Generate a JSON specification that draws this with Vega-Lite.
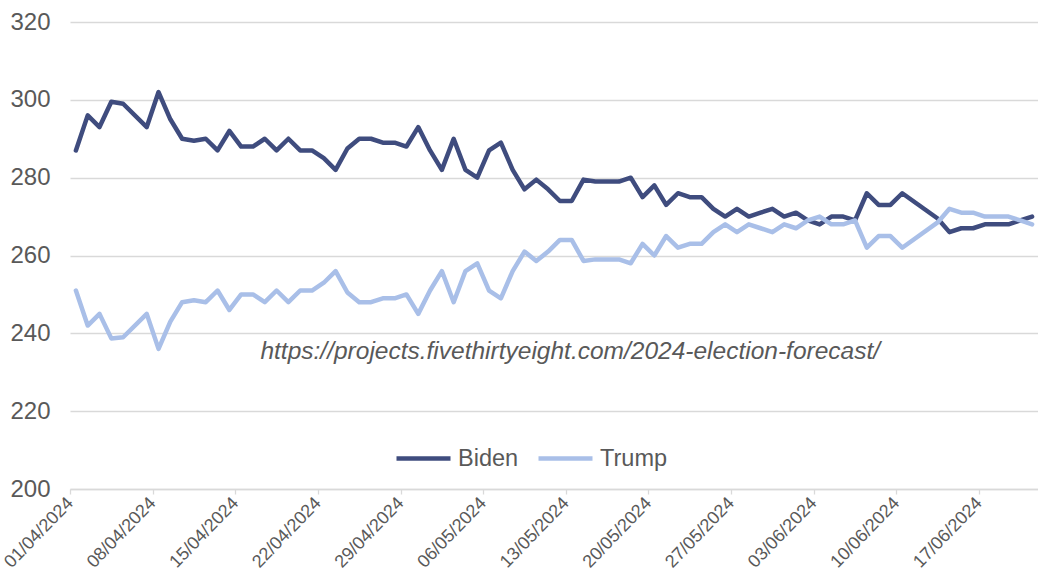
{
  "$schema": "https://vega.github.io/schema/vega-lite/v6.json",
  "autosize": {"type": "none"},
  "width": 968,
  "height": 467,
  "padding": {"left": 70, "top": 22, "right": 0, "bottom": 89},
  "background": "#ffffff",
  "config": {
    "view": {"stroke": null},
    "font": "Liberation Sans"
  },
  "layer": [
    {
      "data": {
        "values": [
          {"date": "2024-04-01", "Biden": 287, "Trump": 251},
          {"date": "2024-04-02", "Biden": 296, "Trump": 242},
          {"date": "2024-04-03", "Biden": 293, "Trump": 245},
          {"date": "2024-04-04", "Biden": 299.5, "Trump": 238.7},
          {"date": "2024-04-05", "Biden": 299, "Trump": 239},
          {"date": "2024-04-07", "Biden": 293, "Trump": 245},
          {"date": "2024-04-08", "Biden": 302, "Trump": 236},
          {"date": "2024-04-09", "Biden": 295, "Trump": 243},
          {"date": "2024-04-10", "Biden": 290, "Trump": 248},
          {"date": "2024-04-11", "Biden": 289.5, "Trump": 248.5},
          {"date": "2024-04-12", "Biden": 290, "Trump": 248},
          {"date": "2024-04-13", "Biden": 287, "Trump": 251},
          {"date": "2024-04-14", "Biden": 292, "Trump": 246},
          {"date": "2024-04-15", "Biden": 288, "Trump": 250},
          {"date": "2024-04-16", "Biden": 288, "Trump": 250},
          {"date": "2024-04-17", "Biden": 290, "Trump": 248},
          {"date": "2024-04-18", "Biden": 287, "Trump": 251},
          {"date": "2024-04-19", "Biden": 290, "Trump": 248},
          {"date": "2024-04-20", "Biden": 287, "Trump": 251},
          {"date": "2024-04-21", "Biden": 287, "Trump": 251},
          {"date": "2024-04-22", "Biden": 285, "Trump": 253},
          {"date": "2024-04-23", "Biden": 282, "Trump": 256},
          {"date": "2024-04-24", "Biden": 287.5, "Trump": 250.5},
          {"date": "2024-04-25", "Biden": 290, "Trump": 248},
          {"date": "2024-04-26", "Biden": 290, "Trump": 248},
          {"date": "2024-04-27", "Biden": 289, "Trump": 249},
          {"date": "2024-04-28", "Biden": 289, "Trump": 249},
          {"date": "2024-04-29", "Biden": 288, "Trump": 250},
          {"date": "2024-04-30", "Biden": 293, "Trump": 245},
          {"date": "2024-05-01", "Biden": 287, "Trump": 251},
          {"date": "2024-05-02", "Biden": 282, "Trump": 256},
          {"date": "2024-05-03", "Biden": 290, "Trump": 248},
          {"date": "2024-05-04", "Biden": 282, "Trump": 256},
          {"date": "2024-05-05", "Biden": 280, "Trump": 258},
          {"date": "2024-05-06", "Biden": 287, "Trump": 251},
          {"date": "2024-05-07", "Biden": 289, "Trump": 249},
          {"date": "2024-05-08", "Biden": 282, "Trump": 256},
          {"date": "2024-05-09", "Biden": 277, "Trump": 261},
          {"date": "2024-05-10", "Biden": 279.5, "Trump": 258.6},
          {"date": "2024-05-11", "Biden": 277, "Trump": 261},
          {"date": "2024-05-12", "Biden": 274, "Trump": 264},
          {"date": "2024-05-13", "Biden": 274, "Trump": 264},
          {"date": "2024-05-14", "Biden": 279.5, "Trump": 258.6},
          {"date": "2024-05-15", "Biden": 279, "Trump": 259},
          {"date": "2024-05-16", "Biden": 279, "Trump": 259},
          {"date": "2024-05-17", "Biden": 279, "Trump": 259},
          {"date": "2024-05-18", "Biden": 280, "Trump": 258},
          {"date": "2024-05-19", "Biden": 275, "Trump": 263},
          {"date": "2024-05-20", "Biden": 278, "Trump": 260},
          {"date": "2024-05-21", "Biden": 273, "Trump": 265},
          {"date": "2024-05-22", "Biden": 276, "Trump": 262},
          {"date": "2024-05-23", "Biden": 275, "Trump": 263},
          {"date": "2024-05-24", "Biden": 275, "Trump": 263},
          {"date": "2024-05-25", "Biden": 272, "Trump": 266},
          {"date": "2024-05-26", "Biden": 270, "Trump": 268},
          {"date": "2024-05-27", "Biden": 272, "Trump": 266},
          {"date": "2024-05-28", "Biden": 270, "Trump": 268},
          {"date": "2024-05-29", "Biden": 271, "Trump": 267},
          {"date": "2024-05-30", "Biden": 272, "Trump": 266},
          {"date": "2024-05-31", "Biden": 270, "Trump": 268},
          {"date": "2024-06-01", "Biden": 271, "Trump": 267},
          {"date": "2024-06-02", "Biden": 269, "Trump": 269},
          {"date": "2024-06-03", "Biden": 268, "Trump": 270},
          {"date": "2024-06-04", "Biden": 270, "Trump": 268},
          {"date": "2024-06-05", "Biden": 270, "Trump": 268},
          {"date": "2024-06-06", "Biden": 269, "Trump": 269},
          {"date": "2024-06-07", "Biden": 276, "Trump": 262},
          {"date": "2024-06-08", "Biden": 273, "Trump": 265},
          {"date": "2024-06-09", "Biden": 273, "Trump": 265},
          {"date": "2024-06-10", "Biden": 276, "Trump": 262},
          {"date": "2024-06-13", "Biden": 269.5, "Trump": 268.5},
          {"date": "2024-06-14", "Biden": 266, "Trump": 272},
          {"date": "2024-06-15", "Biden": 267, "Trump": 271},
          {"date": "2024-06-16", "Biden": 267, "Trump": 271},
          {"date": "2024-06-17", "Biden": 268, "Trump": 270},
          {"date": "2024-06-18", "Biden": 268, "Trump": 270},
          {"date": "2024-06-19", "Biden": 268, "Trump": 270},
          {"date": "2024-06-20", "Biden": 269, "Trump": 269},
          {"date": "2024-06-21", "Biden": 270, "Trump": 268}
        ]
      },
      "transform": [{"fold": ["Biden", "Trump"], "as": ["candidate", "ev"]}],
      "mark": {"type": "line", "strokeWidth": 4.5, "strokeJoin": "round", "strokeCap": "round"},
      "encoding": {
        "x": {
          "field": "date",
          "type": "temporal",
          "timeUnit": "utcyearmonthdate",
          "bandPosition": 0.5,
          "scale": {
            "type": "utc",
            "domain": [
              {"year": 2024, "month": 4, "date": 1, "utc": true},
              {"year": 2024, "month": 6, "date": 22, "utc": true}
            ]
          },
          "axis": {
            "title": null,
            "grid": false,
            "domain": true,
            "domainColor": "#D9D9D9",
            "domainWidth": 1.3,
            "ticks": true,
            "tickColor": "#D9D9D9",
            "tickWidth": 1.3,
            "tickSize": 5,
            "values": [
              {"year": 2024, "month": 4, "date": 1, "utc": true},
              {"year": 2024, "month": 4, "date": 8, "utc": true},
              {"year": 2024, "month": 4, "date": 15, "utc": true},
              {"year": 2024, "month": 4, "date": 22, "utc": true},
              {"year": 2024, "month": 4, "date": 29, "utc": true},
              {"year": 2024, "month": 5, "date": 6, "utc": true},
              {"year": 2024, "month": 5, "date": 13, "utc": true},
              {"year": 2024, "month": 5, "date": 20, "utc": true},
              {"year": 2024, "month": 5, "date": 27, "utc": true},
              {"year": 2024, "month": 6, "date": 3, "utc": true},
              {"year": 2024, "month": 6, "date": 10, "utc": true},
              {"year": 2024, "month": 6, "date": 17, "utc": true}
            ],
            "labelExpr": "utcFormat(datum.value, '%d/%m/%Y')",
            "labelAngle": -46,
            "labelAlign": "right",
            "labelBaseline": "middle",
            "labelFontSize": 18,
            "labelColor": "#595959",
            "labelPadding": 6,
            "labelDx": 7,
            "labelOverlap": false,
            "labelFlush": false
          }
        },
        "y": {
          "field": "ev",
          "type": "quantitative",
          "scale": {"domain": [200, 320], "nice": false, "zero": false},
          "axis": {
            "title": null,
            "values": [200, 220, 240, 260, 280, 300, 320],
            "grid": true,
            "gridColor": "#D9D9D9",
            "gridWidth": 1.3,
            "domain": false,
            "ticks": false,
            "labelFontSize": 24,
            "labelColor": "#595959",
            "labelPadding": 20
          }
        },
        "color": {
          "field": "candidate",
          "type": "nominal",
          "scale": {"domain": ["Biden", "Trump"], "range": ["#3F4C7E", "#A9BFE8"]},
          "legend": {
            "title": null,
            "orient": "none",
            "direction": "horizontal",
            "legendX": 324,
            "legendY": 407,
            "symbolType": "stroke",
            "symbolSize": 2916,
            "symbolStrokeWidth": 4.5,
            "labelFontSize": 23.5,
            "labelColor": "#595959",
            "labelOffset": 5,
            "columnPadding": 10
          }
        }
      }
    },
    {
      "data": {"values": [{"note": "https://projects.fivethirtyeight.com/2024-election-forecast/"}]},
      "mark": {"type": "text", "fontStyle": "italic", "fontSize": 24.5, "color": "#595959", "align": "center", "baseline": "middle"},
      "encoding": {
        "x": {
          "datum": {"year": 2024, "month": 5, "date": 13, "hours": 9, "utc": true},
          "type": "temporal",
          "scale": {"type": "utc"}
        },
        "y": {"datum": 235.3, "type": "quantitative"},
        "text": {"field": "note", "type": "nominal"}
      }
    }
  ]
}
